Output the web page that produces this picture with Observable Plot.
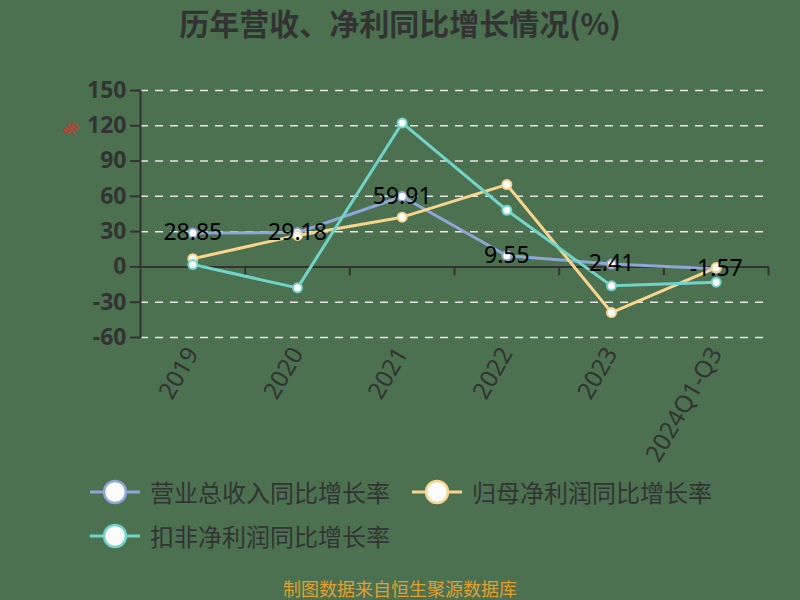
<!DOCTYPE html>
<html><head><meta charset="utf-8">
<script src="https://cdn.jsdelivr.net/npm/d3@7"></script>
<script src="https://cdn.jsdelivr.net/npm/@observablehq/plot@0.6"></script>
<style>
html,body{margin:0;padding:0;}
body{background:#4b7150;width:800px;height:600px;overflow:hidden;position:relative;font-family:"Noto Sans CJK SC","Noto Sans",sans-serif;}
#title{position:absolute;left:0;top:6px;width:800px;text-align:center;font-size:30px;line-height:32px;font-weight:bold;color:#333;}
#chart{position:absolute;left:0;top:50px;}
#pct{position:absolute;left:64px;top:119px;font-size:17px;line-height:20px;color:#e0302a;transform:rotate(-60deg);font-family:"Noto Sans",sans-serif;}
.leg{position:absolute;display:flex;align-items:center;height:30px;}
.leg svg{display:block;}
.leg span{font-size:24px;line-height:30px;color:#333;margin-left:10px;}
#caption{position:absolute;left:0;top:577px;width:800px;text-align:center;font-size:18px;line-height:22px;color:#e0a030;}
</style></head><body>
<div id="title">历年营收、净利同比增长情况(%)</div>
<div id="chart"></div>
<div id="pct">%</div>
<div id="legend"></div>
<div id="caption">制图数据来自恒生聚源数据库</div>
<script>
const categories = ["2019","2020","2021","2022","2023","2024Q1-Q3"];
const revenueGrowth = [28.85, 29.18, 59.91, 9.55, 2.41, -1.57];
const netProfitGrowth = [7.0, 26.8, 42.3, 70.0, -38.8, -0.5];
const deductedProfitGrowth = [2.0, -17.8, 122.4, 48.2, -16.1, -13.0];
const yTicks = [-60, -30, 0, 30, 60, 90, 120, 150];
const seriesNames = ["营业总收入同比增长率", "归母净利润同比增长率", "扣非净利润同比增长率"];
const seriesColors = ["#8fa6d6", "#f7d58e", "#72d4c8"];

const seriesValues = [revenueGrowth, netProfitGrowth, deductedProfitGrowth];
const data = [];
seriesValues.forEach((vals, s) => vals.forEach((v, i) => data.push({series: seriesNames[s], pos: i + 0.5, cat: categories[i], value: v})));
const revData = data.filter(d => d.series === seriesNames[0]);
const bounds = d3.range(1, categories.length + 1);

const chart = Plot.plot({
  width: 800,
  height: 420,
  marginTop: 40,
  marginBottom: 133,
  marginLeft: 140,
  marginRight: 32,
  style: {background: "transparent", overflow: "visible", fontFamily: "'Noto Sans','Noto Sans CJK SC',sans-serif"},
  x: {domain: [0, categories.length], axis: null},
  y: {domain: [-60, 150], axis: null},
  color: {domain: seriesNames, range: seriesColors},
  marks: [
    Plot.ruleY(yTicks.filter(v => v !== 0), {stroke: "#e6e6e6", strokeWidth: 1.5, strokeDasharray: "8,7"}),
    Plot.ruleY([0], {stroke: "#333", strokeWidth: 2}),
    Plot.ruleX(bounds, {y1: 0, y2: -7.5, stroke: "#333", strokeWidth: 2}),
    Plot.frame({anchor: "left", stroke: "#333", strokeWidth: 2}),
    Plot.axisY(yTicks, {label: null, tickFormat: d => String(d), tickSize: 10, tickPadding: 4, fontSize: 23, fontWeight: "bold", color: "#333", strokeWidth: 2}),
    Plot.axisX(bounds.map(b => b - 0.5), {label: null, tickFormat: d => categories[Math.floor(d)], tickSize: 0, tickPadding: 12, tickRotate: -60, fontSize: 24, color: "#333"}),
    Plot.line(data, {x: "pos", y: "value", z: "series", stroke: "series", strokeWidth: 3}),
    Plot.dot(data, {x: "pos", y: "value", stroke: "series", fill: "white", r: 4.5, strokeWidth: 2}),
    Plot.text(revData, {x: "pos", y: "value", text: d => d.value.toFixed(2), fill: "black", fontSize: 23})
  ]
});
document.getElementById("chart").appendChild(chart);

const legendPos = [[90, 477], [412, 477], [90, 521]];
const legend = document.getElementById("legend");
seriesNames.forEach((name, i) => {
  const div = document.createElement("div");
  div.className = "leg";
  div.style.left = legendPos[i][0] + "px";
  div.style.top = legendPos[i][1] + "px";
  const c = seriesColors[i];
  div.innerHTML = `<svg width="50" height="30"><line x1="0" x2="50" y1="15" y2="15" stroke="${c}" stroke-width="3"/><circle cx="25" cy="15" r="11" fill="#fbfbfb" stroke="${c}" stroke-width="2.5"/></svg><span>${name}</span>`;
  legend.appendChild(div);
});
</script>
</body></html>
